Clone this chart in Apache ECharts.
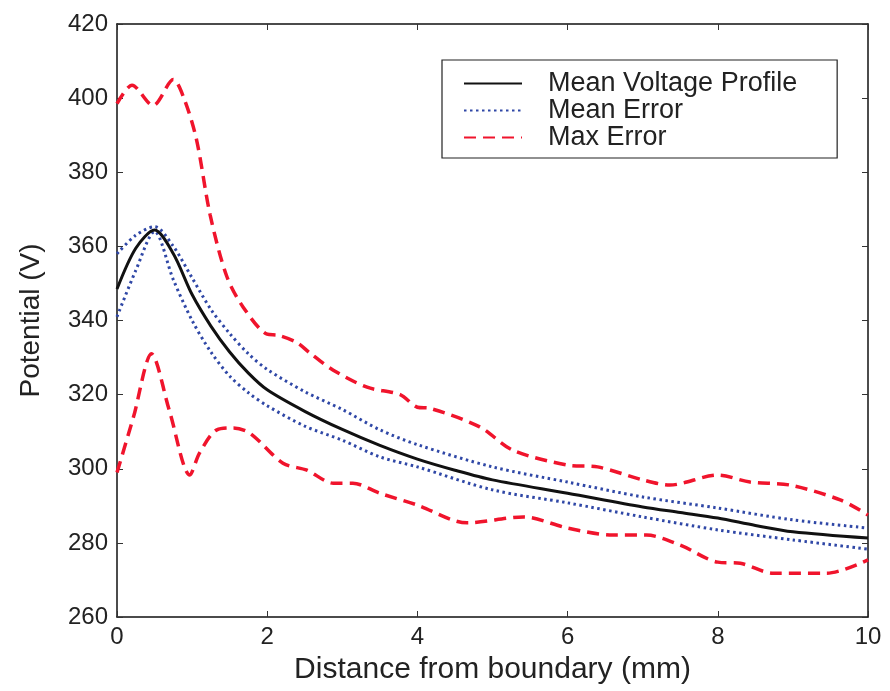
<!DOCTYPE html>
<html>
<head>
<meta charset="utf-8">
<style>html,body{margin:0;padding:0;background:#fff}#c{width:890px;height:691px}</style>
<script src="https://cdn.jsdelivr.net/npm/echarts@6/dist/echarts.min.js"></script>
</head>
<body>
<div id="c"></div>
<script>
// ---- data ----
const xTicks = [0, 2, 4, 6, 8, 10];
const yTicks = [260, 280, 300, 320, 340, 360, 380, 400, 420];
const seriesNames = ['Mean Voltage Profile', 'Mean Error', 'Max Error'];

const meanX = [0, 0.25, 0.5, 0.75, 1, 1.25, 1.5, 1.75, 2, 2.5, 3, 3.5, 4, 4.5, 5, 6, 7, 7.5, 8, 8.5, 9, 10];
const meanY = [348.5, 359.5, 364.4, 358, 347, 338.5, 331.5, 325.8, 321.3, 315.5, 310.6, 306.3, 302.6, 299.6, 297, 293.4, 289.7, 288.2, 286.7, 284.7, 283, 281.3];

const errX = [0, 0.25, 0.5, 0.75, 1, 1.25, 1.5, 1.75, 2, 2.5, 3, 3.5, 4, 5, 6, 7, 8, 9, 10];
const errUpperY = [358, 363, 365.3, 360, 351.5, 343, 336.5, 331, 326.8, 320.8, 316, 310.5, 306.5, 300.5, 296.4, 292.4, 289.4, 286.2, 284];
const errLowerY = [341, 353.5, 364, 351, 340, 331.5, 325, 320.5, 317, 311.5, 307.7, 303.2, 300.5, 294.3, 290.8, 287, 283.5, 280.8, 278.3];

const maxUpperX = [0, 0.2, 0.48, 0.75, 0.9, 1.06, 1.24, 1.46, 1.68, 2.0, 2.15, 2.4, 2.57, 2.88, 3.33, 3.77, 4.0, 4.17, 4.83, 5.27, 6.0, 6.4, 7.0, 7.36, 8.0, 8.43, 8.96, 9.63, 10];
const maxUpperY = [398.5, 403.5, 398, 405, 399.5, 388.7, 368.5, 352, 343.6, 336.3, 336, 334, 331.2, 326.6, 322, 320, 316.6, 316.3, 311.3, 305, 301, 300.5, 297, 295.6, 298.3, 296.4, 295.6, 291.6, 287.5];

const maxLowerX = [0, 0.22, 0.46, 0.7, 0.97, 1.1, 1.33, 1.55, 1.77, 2.21, 2.53, 2.88, 3.14, 3.5, 4.0, 4.66, 5.41, 6.0, 6.6, 7.05, 7.5, 8.0, 8.3, 8.74, 9.45, 10];
const maxLowerY = [299, 314, 331, 315.5, 298.3, 304.3, 310.5, 311, 309.6, 301.5, 299.6, 296.1, 296.1, 293.4, 290.2, 285.4, 287, 284, 282.1, 282.1, 279.4, 274.8, 274.5, 271.8, 271.8, 275.4];

// ---- chart ----
const pairs = (xs, ys) => xs.map((x, i) => [x, ys[i]]);
const C_BLACK = '#111111', C_BLUE = '#2f47a6', C_RED = '#f0142c';
const FONT = 'Liberation Sans, Arial, Helvetica, sans-serif';

const chart = echarts.init(document.getElementById('c'), null, {renderer: 'canvas'});

const mkLine = (name, data, color, type, width, z, smooth) => ({
  name, type: 'line', data, symbol: 'none', showSymbol: false, smooth,
  lineStyle: {color, type, width, cap: 'butt'}, itemStyle: {color}, z,
  xAxisIndex: 0, yAxisIndex: 0, animation: false
});

const dotted = [2.5, 3.5];
const dashed = [12, 7];

chart.setOption({
  animation: false,
  backgroundColor: '#ffffff',
  grid: {left: 117, right: 22, top: 24, bottom: 74, containLabel: false},
  legend: {
    left: 442, top: 60, orient: 'vertical',
    data: seriesNames,
    itemWidth: 58, itemHeight: 14, itemGap: 0,
    padding: [10, 40, 7, 21],
    itemStyle: {opacity: 0},
    borderColor: '#222', borderWidth: 1.2, backgroundColor: '#fff',
    textStyle: {fontFamily: FONT, fontSize: 27, color: '#222', lineHeight: 26.5, padding: [0, 0, 0, 21]}
  },
  xAxis: [{
    type: 'value', min: 0, max: 10, interval: 2, position: 'bottom',
    name: 'Distance from boundary (mm)', nameLocation: 'middle', nameGap: 38,
    nameTextStyle: {fontFamily: FONT, fontSize: 30, color: '#222'},
    axisLine: {show: true, onZero: false, lineStyle: {color: '#111', width: 1.5}},
    axisTick: {show: true, inside: true, length: 6, lineStyle: {color: '#333'}},
    axisLabel: {fontFamily: FONT, fontSize: 24, color: '#222', margin: 8,
      formatter: v => xTicks.includes(v) ? String(v) : ''},
    splitLine: {show: false}
  }, {
    type: 'value', min: 0, max: 10, interval: 2, position: 'top',
    axisLine: {show: true, onZero: false, lineStyle: {color: '#111', width: 1.5}},
    axisTick: {show: true, inside: true, length: 6, lineStyle: {color: '#333'}},
    axisLabel: {show: false}, splitLine: {show: false}
  }],
  yAxis: [{
    type: 'value', min: 260, max: 420, interval: 20, position: 'left',
    name: 'Potential (V)', nameLocation: 'middle', nameGap: 72, nameRotate: 90,
    nameTextStyle: {fontFamily: FONT, fontSize: 28, color: '#222'},
    axisLine: {show: true, onZero: false, lineStyle: {color: '#111', width: 1.5}},
    axisTick: {show: true, inside: true, length: 6, lineStyle: {color: '#333'}},
    axisLabel: {fontFamily: FONT, fontSize: 24, color: '#222', margin: 9,
      formatter: v => yTicks.includes(v) ? String(v) : ''},
    splitLine: {show: false}
  }, {
    type: 'value', min: 260, max: 420, interval: 20, position: 'right',
    axisLine: {show: true, onZero: false, lineStyle: {color: '#111', width: 1.5}},
    axisTick: {show: true, inside: true, length: 6, lineStyle: {color: '#333'}},
    axisLabel: {show: false}, splitLine: {show: false}
  }],
  series: [
    mkLine(seriesNames[2], pairs(maxUpperX, maxUpperY), C_RED, dashed, 3.5, 2, 0.3),
    mkLine(seriesNames[2], pairs(maxLowerX, maxLowerY), C_RED, dashed, 3.5, 2, 0.3),
    mkLine(seriesNames[1], pairs(errX, errUpperY), C_BLUE, dotted, 3, 3, 0.3),
    mkLine(seriesNames[1], pairs(errX, errLowerY), C_BLUE, dotted, 3, 3, 0.3),
    mkLine(seriesNames[0], pairs(meanX, meanY), C_BLACK, 'solid', 3, 4, 0.3)
  ]
});
</script>
</body>
</html>
